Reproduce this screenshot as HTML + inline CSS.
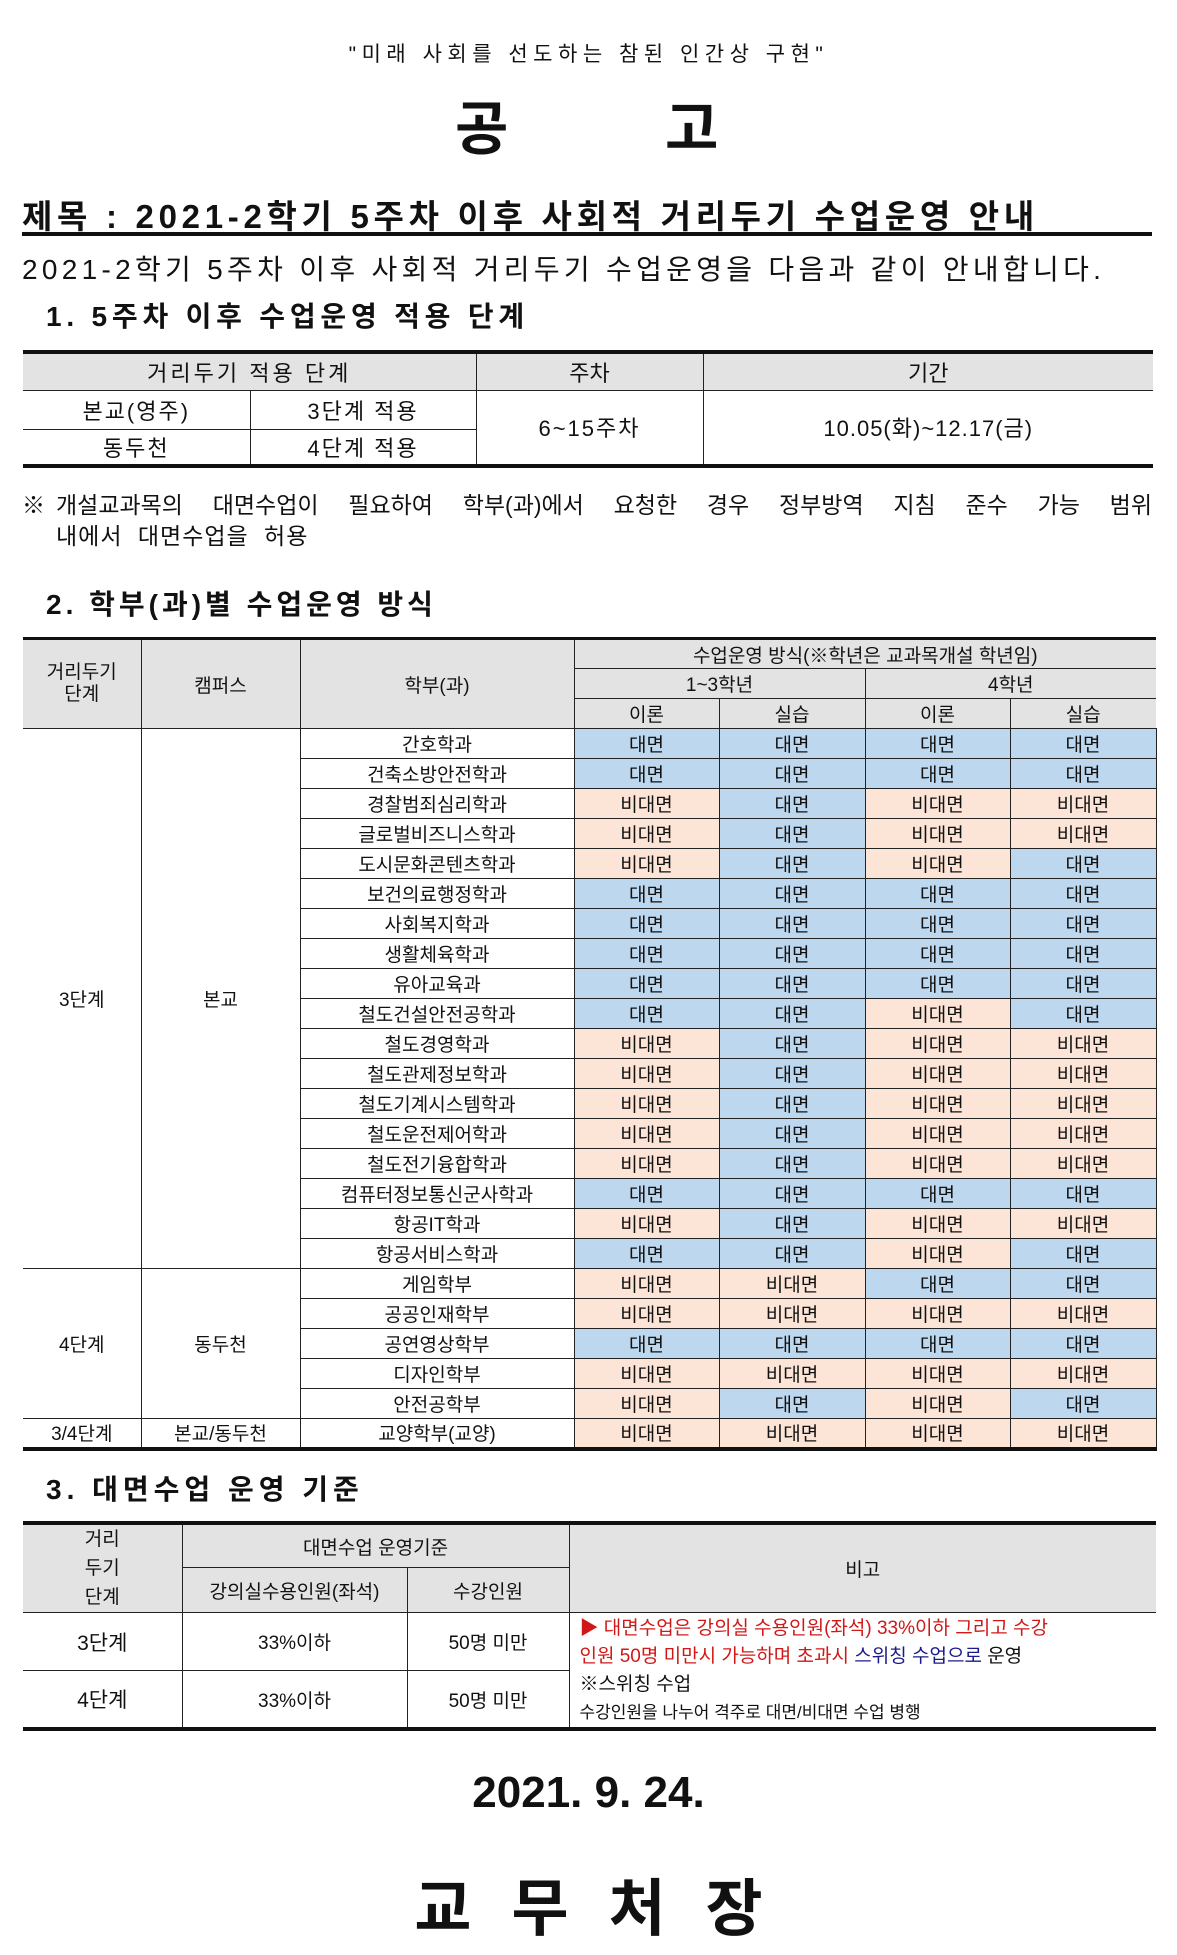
<!DOCTYPE html>
<html><head><meta charset="utf-8">
<style>
*{margin:0;padding:0;box-sizing:border-box}
body{width:1177px;height:1955px;background:#fff;position:relative;font-family:"Liberation Sans","Noto Sans CJK KR",sans-serif;color:#111;overflow:hidden}
.a{position:absolute;white-space:nowrap}
table{position:absolute;border-collapse:collapse;table-layout:fixed}
td{text-align:center;vertical-align:middle;border:1px solid #222;font-size:19px;padding:0;overflow:hidden;white-space:nowrap}
.h{background:#e3e3e3}
.b{background:#bdd7ee}
.p{background:#fce4d6}
</style></head><body>
<div class="a" style="left:0;width:1177px;text-align:center;top:38px;font-size:21px;letter-spacing:5.5px">"미래 사회를 선도하는 참된 인간상 구현"</div>
<div class="a" style="left:455px;top:82px;font-size:58px;font-weight:bold">공</div>
<div class="a" style="left:665px;top:82px;font-size:58px;font-weight:bold">고</div>
<div class="a" style="left:22px;top:190px;font-size:33px;font-weight:bold;letter-spacing:4.7px">제목 : 2021-2학기 5주차 이후 사회적 거리두기 수업운영 안내</div>
<div class="a" style="left:22px;top:232px;width:1130px;height:4px;background:#111"></div>
<div class="a" style="left:22px;top:248px;font-size:28px;letter-spacing:4.3px">2021-2학기 5주차 이후 사회적 거리두기 수업운영을 다음과 같이 안내합니다.</div>
<div class="a" style="left:46px;top:295px;font-size:28px;font-weight:bold;letter-spacing:4.8px">1. 5주차 이후 수업운영 적용 단계</div>

<table style="left:23px;top:350px;width:1130px;border-top:4px solid #111;border-bottom:4px solid #111">
<colgroup><col style="width:227px"><col style="width:226px"><col style="width:227px"><col style="width:450px"></colgroup>
<tr style="height:38px"><td class="h" colspan="2" style="font-size:22px;border-left:none;letter-spacing:3px">거리두기 적용 단계</td><td class="h" style="font-size:22px">주차</td><td class="h" style="font-size:22px;border-right:none">기간</td></tr>
<tr style="height:39px"><td style="font-size:22px;border-left:none;letter-spacing:2px">본교(영주)</td><td style="font-size:22px;letter-spacing:2px">3단계 적용</td><td rowspan="2" style="font-size:22px;letter-spacing:2px">6~15주차</td><td rowspan="2" style="font-size:22px;border-right:none;letter-spacing:1px">10.05(화)~12.17(금)</td></tr>
<tr style="height:37px"><td style="font-size:22px;border-left:none;letter-spacing:2px">동두천</td><td style="font-size:22px;letter-spacing:2px">4단계 적용</td></tr>
</table>

<div class="a" style="left:22px;top:486px;font-size:23px">※</div>
<div class="a" style="left:56px;top:486px;width:1096px;font-size:23px;text-align:justify;text-align-last:justify;white-space:normal">개설교과목의 대면수업이 필요하여 학부(과)에서 요청한 경우 정부방역 지침 준수 가능 범위</div>
<div class="a" style="left:56px;top:517px;font-size:23px;word-spacing:8px;letter-spacing:1px">내에서 대면수업을 허용</div>
<div class="a" style="left:46px;top:583px;font-size:28px;font-weight:bold;letter-spacing:4px">2. 학부(과)별 수업운영 방식</div>

<table style="left:23px;top:637px;width:1133px;border-top:3px solid #111;border-bottom:4px solid #111">
<colgroup><col style="width:118px"><col style="width:159px"><col style="width:274px"><col style="width:145px"><col style="width:146px"><col style="width:145px"><col style="width:146px"></colgroup>
<tr style="height:30px"><td class="h" rowspan="3" style="border-left:none;line-height:22px">거리두기<br>단계</td><td class="h" rowspan="3">캠퍼스</td><td class="h" rowspan="3">학부(과)</td><td class="h" colspan="4" style="border-right:none">수업운영 방식(※학년은 교과목개설 학년임)</td></tr>
<tr style="height:30px"><td class="h" colspan="2">1~3학년</td><td class="h" colspan="2" style="border-right:none">4학년</td></tr>
<tr style="height:30px"><td class="h">이론</td><td class="h">실습</td><td class="h">이론</td><td class="h" style="border-right:none">실습</td></tr>
<tr style="height:30px"><td rowspan="18" style="border-left:none">3단계</td><td rowspan="18">본교</td><td>간호학과</td><td class="b">대면</td><td class="b">대면</td><td class="b">대면</td><td class="b">대면</td></tr>
<tr style="height:30px"><td>건축소방안전학과</td><td class="b">대면</td><td class="b">대면</td><td class="b">대면</td><td class="b">대면</td></tr>
<tr style="height:30px"><td>경찰범죄심리학과</td><td class="p">비대면</td><td class="b">대면</td><td class="p">비대면</td><td class="p">비대면</td></tr>
<tr style="height:30px"><td>글로벌비즈니스학과</td><td class="p">비대면</td><td class="b">대면</td><td class="p">비대면</td><td class="p">비대면</td></tr>
<tr style="height:30px"><td>도시문화콘텐츠학과</td><td class="p">비대면</td><td class="b">대면</td><td class="p">비대면</td><td class="b">대면</td></tr>
<tr style="height:30px"><td>보건의료행정학과</td><td class="b">대면</td><td class="b">대면</td><td class="b">대면</td><td class="b">대면</td></tr>
<tr style="height:30px"><td>사회복지학과</td><td class="b">대면</td><td class="b">대면</td><td class="b">대면</td><td class="b">대면</td></tr>
<tr style="height:30px"><td>생활체육학과</td><td class="b">대면</td><td class="b">대면</td><td class="b">대면</td><td class="b">대면</td></tr>
<tr style="height:30px"><td>유아교육과</td><td class="b">대면</td><td class="b">대면</td><td class="b">대면</td><td class="b">대면</td></tr>
<tr style="height:30px"><td>철도건설안전공학과</td><td class="b">대면</td><td class="b">대면</td><td class="p">비대면</td><td class="b">대면</td></tr>
<tr style="height:30px"><td>철도경영학과</td><td class="p">비대면</td><td class="b">대면</td><td class="p">비대면</td><td class="p">비대면</td></tr>
<tr style="height:30px"><td>철도관제정보학과</td><td class="p">비대면</td><td class="b">대면</td><td class="p">비대면</td><td class="p">비대면</td></tr>
<tr style="height:30px"><td>철도기계시스템학과</td><td class="p">비대면</td><td class="b">대면</td><td class="p">비대면</td><td class="p">비대면</td></tr>
<tr style="height:30px"><td>철도운전제어학과</td><td class="p">비대면</td><td class="b">대면</td><td class="p">비대면</td><td class="p">비대면</td></tr>
<tr style="height:30px"><td>철도전기융합학과</td><td class="p">비대면</td><td class="b">대면</td><td class="p">비대면</td><td class="p">비대면</td></tr>
<tr style="height:30px"><td>컴퓨터정보통신군사학과</td><td class="b">대면</td><td class="b">대면</td><td class="b">대면</td><td class="b">대면</td></tr>
<tr style="height:30px"><td>항공IT학과</td><td class="p">비대면</td><td class="b">대면</td><td class="p">비대면</td><td class="p">비대면</td></tr>
<tr style="height:30px"><td>항공서비스학과</td><td class="b">대면</td><td class="b">대면</td><td class="p">비대면</td><td class="b">대면</td></tr>
<tr style="height:30px"><td rowspan="5" style="border-left:none">4단계</td><td rowspan="5">동두천</td><td>게임학부</td><td class="p">비대면</td><td class="p">비대면</td><td class="b">대면</td><td class="b">대면</td></tr>
<tr style="height:30px"><td>공공인재학부</td><td class="p">비대면</td><td class="p">비대면</td><td class="p">비대면</td><td class="p">비대면</td></tr>
<tr style="height:30px"><td>공연영상학부</td><td class="b">대면</td><td class="b">대면</td><td class="b">대면</td><td class="b">대면</td></tr>
<tr style="height:30px"><td>디자인학부</td><td class="p">비대면</td><td class="p">비대면</td><td class="p">비대면</td><td class="p">비대면</td></tr>
<tr style="height:30px"><td>안전공학부</td><td class="p">비대면</td><td class="b">대면</td><td class="p">비대면</td><td class="b">대면</td></tr>
<tr style="height:30px"><td style="border-left:none">3/4단계</td><td>본교/동두천</td><td>교양학부(교양)</td><td class="p">비대면</td><td class="p">비대면</td><td class="p">비대면</td><td class="p">비대면</td></tr>
</table>

<div class="a" style="left:46px;top:1468px;font-size:28px;font-weight:bold;letter-spacing:5px">3. 대면수업 운영 기준</div>

<table style="left:23px;top:1521px;width:1133px;border-top:4px solid #111;border-bottom:4px solid #111">
<colgroup><col style="width:159px"><col style="width:225px"><col style="width:162px"><col style="width:587px"></colgroup>
<tr style="height:44px"><td class="h" rowspan="2" style="border-left:none;line-height:29px">거리<br>두기<br>단계</td><td class="h" colspan="2">대면수업 운영기준</td><td class="h" rowspan="2" style="border-right:none">비고</td></tr>
<tr style="height:44px"><td class="h">강의실수용인원(좌석)</td><td class="h">수강인원</td></tr>
<tr style="height:55px"><td style="border-left:none;font-size:21px">3단계</td><td>33%이하</td><td>50명 미만</td>
<td rowspan="2" style="border-right:none;text-align:left;vertical-align:top;padding:2px 0 0 10px;font-size:19px;line-height:28px;white-space:normal">
<span style="color:#d01818">▶ 대면수업은 강의실 수용인원(좌석) 33%이하 그리고 수강<br>인원 50명 미만시 가능하며 초과시 </span><span style="color:#1a1a8c">스위칭 수업으로</span> 운영<br>※스위칭 수업<br><span style="font-size:17px">수강인원을 나누어 격주로 대면/비대면 수업 병행</span></td></tr>
<tr style="height:55px"><td style="border-left:none;font-size:21px">4단계</td><td>33%이하</td><td>50명 미만</td></tr>
</table>

<div class="a" style="left:0;width:1177px;text-align:center;top:1768px;font-size:44px;font-weight:bold">2021. 9. 24.</div>
<div class="a" style="left:0;width:1177px;text-align:center;top:1858px;font-size:62px;font-weight:bold;letter-spacing:40px;padding-left:40px">교무처장</div>
</body></html>
